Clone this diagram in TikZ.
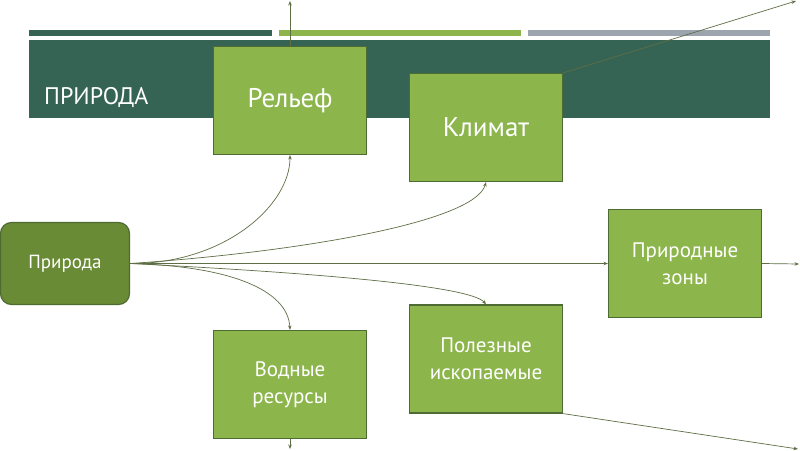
\documentclass[tikz,border=0pt]{standalone}
\usepackage{fontspec}
\setmainfont{PT Sans}
\usetikzlibrary{arrows.meta}
\definecolor{banner}{HTML}{356455}
\definecolor{lgreen}{HTML}{8DB54B}
\definecolor{grayb}{HTML}{9CA4AE}
\definecolor{boxfill}{HTML}{8CB54C}
\definecolor{boxline}{HTML}{4F6B34}
\definecolor{rootfill}{HTML}{6A8B35}
\definecolor{conn}{HTML}{5E6E45}
\pgfdeclarelayer{back}
\pgfdeclarelayer{mid}
\pgfsetlayers{back,mid,main}
\begin{document}
\begin{tikzpicture}[x=1pt,y=-1pt,
  box/.style={draw=boxline, line width=1.2pt, fill=boxfill, text=white,
    minimum width=153pt, minimum height=108pt, inner sep=0pt, align=center,
    font=\fontsize{21}{27}\selectfont},
  bigbox/.style={box, font=\fontsize{27}{32}\selectfont},
  rootbox/.style={draw=boxline, line width=1.2pt, fill=rootfill, text=white,
    rounded corners=11pt, minimum width=129pt, minimum height=82pt,
    inner sep=0pt, font=\fontsize{19}{22}\selectfont},
  conn/.style={draw=conn, line width=0.7pt, -{Stealth[length=4.5pt,width=3.5pt]}}]
\useasboundingbox (0,0) rectangle (800,450);
\begin{pgfonlayer}{back}
\fill[white] (0,0) rectangle (800,450);
\fill[banner] (29,30) rectangle (272,36);
\fill[lgreen] (279,30) rectangle (521,36);
\fill[grayb] (528,30) rectangle (770,36);
\fill[banner] (29,40) rectangle (770,118);
\end{pgfonlayer}
\node[anchor=base west, text=white, inner sep=0pt, font=\fontsize{24}{26}\selectfont] (title) at (44,104) {ПРИРОДА};
% nodes
\node[rootbox] (root) at (65,263.5) {Природа};
\node[bigbox] (rel) at (290,100.5) {Рельеф};
\node[bigbox] (klim) at (486,127.5) {Климат};
\node[box] (zon) at (685,263.5) {Природные\\зоны};
\node[box] (pol) at (486,359) {Полезные\\ископаемые};
\node[box] (vod) at (290,384.5) {Водные\\ресурсы};
\coordinate (e1) at (290,1);
\coordinate (e2) at (796,1);
\coordinate (e3) at (799,264);
\coordinate (e4) at (798,449);
\coordinate (e5) at (290,449);
% connectors
\begin{pgfonlayer}{mid}
\draw[conn] (root.east) .. controls (225,264) and (290,205) .. (rel.south);
\draw[conn] (root.east) .. controls (300,252) and (475,222) .. (klim.south);
\draw[conn] (root.east) -- (zon.west);
\draw[conn] (root.east) .. controls (300,272) and (470,285) .. (pol.north);
\draw[conn] (root.east) .. controls (230,266) and (288,290) .. (vod.north);
\draw[conn] (rel.north) -- (e1);
\draw[conn] (klim.north east) -- (e2);
\draw[conn] (zon.east) -- (e3);
\draw[conn] (pol.south east) -- (e4);
\draw[conn] (vod.south) -- (e5);
\end{pgfonlayer}
\end{tikzpicture}
\end{document}
